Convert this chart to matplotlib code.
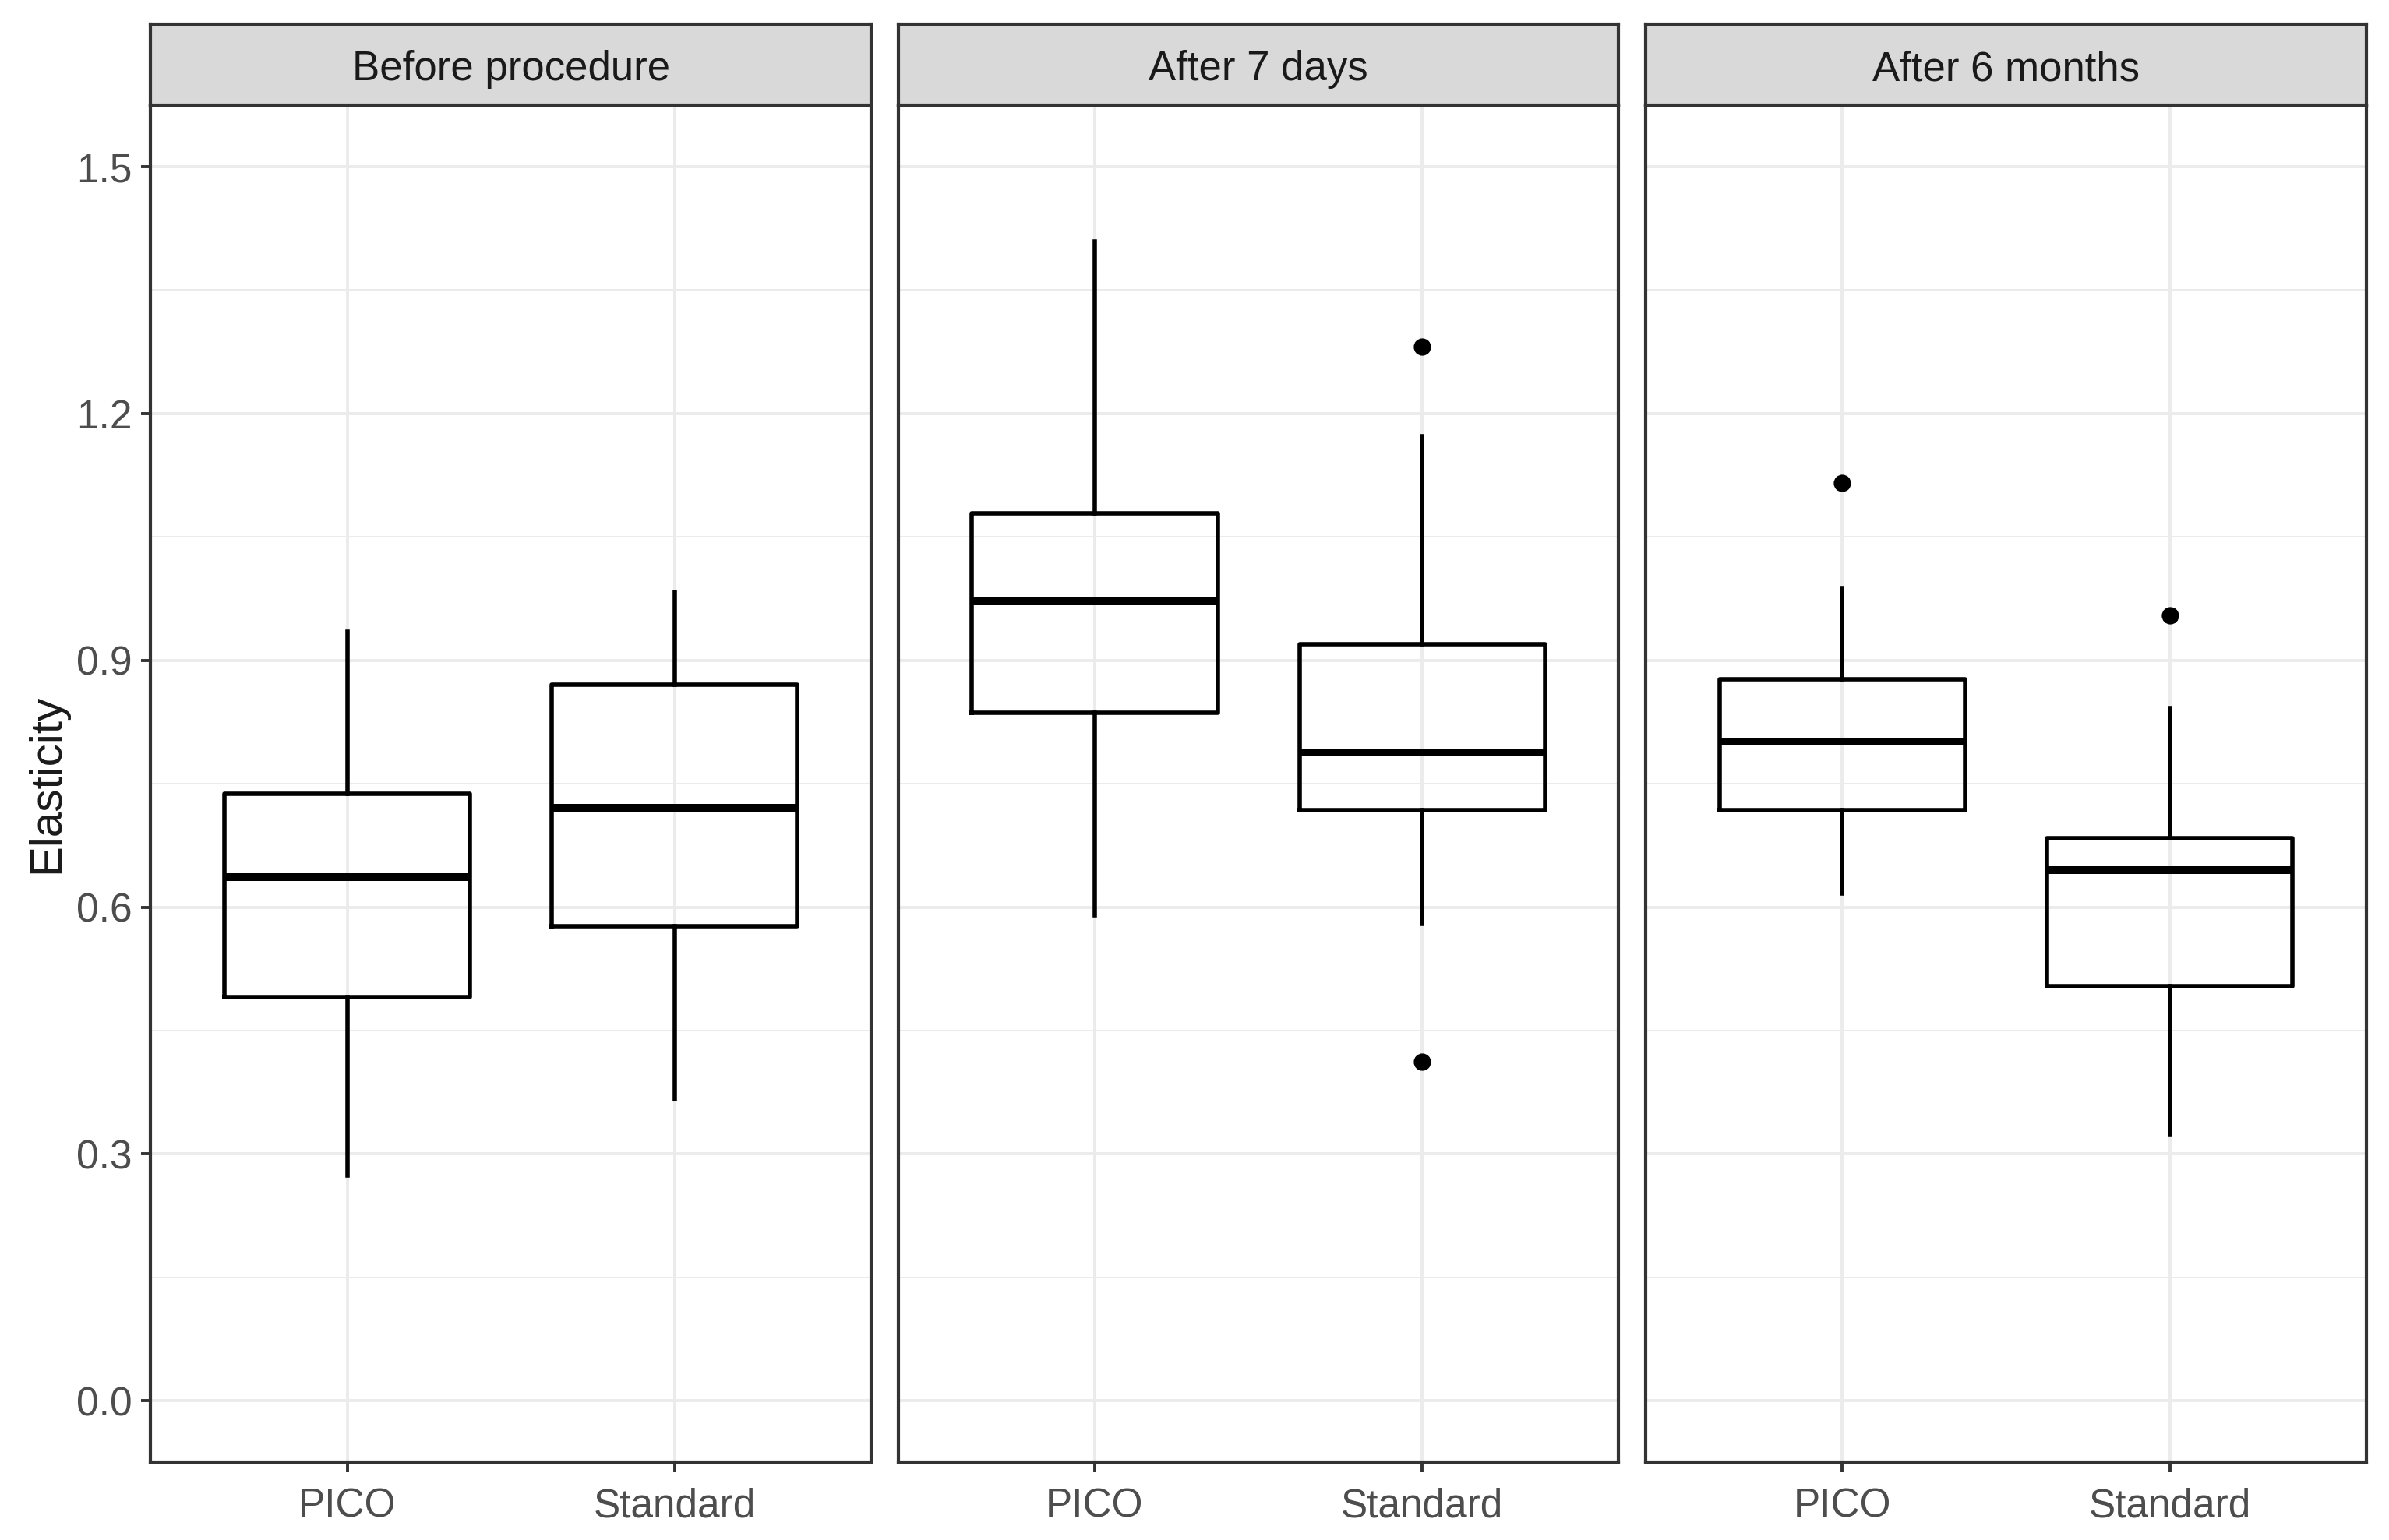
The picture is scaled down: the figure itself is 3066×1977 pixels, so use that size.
import numpy as np
import matplotlib.pyplot as plt

plt.rcParams['font.family'] = ['Liberation Sans', 'DejaVu Sans']

panels = ["Before procedure", "After 7 days", "After 6 months"]
groups = ["PICO", "Standard"]

# box stats per panel: [PICO, Standard]
whislo = [[0.274, 0.367], [0.590, 0.580], [0.617, 0.323]]
q1 = [[0.491, 0.577], [0.836, 0.718], [0.718, 0.504]]
med = [[0.636, 0.721], [0.972, 0.788], [0.801, 0.645]]
q3 = [[0.738, 0.870], [1.079, 0.920], [0.877, 0.684]]
whishi = [[0.935, 0.983], [1.409, 1.172], [0.988, 0.842]]
fliers = [[[], []], [[], [1.281, 0.412]], [[1.116], [0.955]]]

yticks = [0.0, 0.3, 0.6, 0.9, 1.2, 1.5]

fig = plt.figure(figsize=(15.33, 9.885), dpi=200)
left, right, bottom, top = 0.0631, 0.9904, 0.0504, 0.9318
gap = 18 / 1568
pw = (right - left - 2 * gap) / 3
strip_h = 0.9842 - top

for i, name in enumerate(panels):
    x0 = left + i * (pw + gap)
    ax = fig.add_axes([x0, bottom, pw, top - bottom])
    stats = []
    for j, g in enumerate(groups):
        stats.append(dict(label=g, whislo=whislo[i][j], q1=q1[i][j], med=med[i][j],
                          q3=q3[i][j], whishi=whishi[i][j], fliers=fliers[i][j]))
    ax.bxp(stats, positions=[1, 2], widths=0.75, showcaps=False,
           boxprops=dict(color='black', linewidth=2.0),
           whiskerprops=dict(color='black', linewidth=2.0),
           medianprops=dict(color='black', linewidth=3.6, solid_capstyle='butt'),
           flierprops=dict(marker='o', markerfacecolor='black', markeredgecolor='black',
                           markersize=7))
    ax.set_xlim(0.4, 2.6)
    ax.set_ylim(-0.075, 1.575)
    ax.set_yticks(yticks)
    ax.set_yticks([0.15, 0.45, 0.75, 1.05, 1.35], minor=True)
    ax.grid(True, which='major', color='#EBEBEB', linewidth=1.4, zorder=0)
    ax.grid(True, which='minor', axis='y', color='#EBEBEB', linewidth=0.7, zorder=0)
    ax.set_axisbelow(True)
    for s in ax.spines.values():
        s.set_color('#333333')
        s.set_linewidth(1.5)
    ax.tick_params(which='major', length=4.5, width=1.4, color='#333333',
                   labelsize=18.5, labelcolor='#4D4D4D', pad=4)
    ax.tick_params(axis='x', pad=7)
    ax.tick_params(which='minor', length=0)
    if i == 0:
        ax.set_yticklabels([f"{v:.1f}" for v in yticks])
        ax.set_ylabel("Elasticity", fontsize=21, color='#1A1A1A', labelpad=4)
    else:
        ax.tick_params(axis='y', which='both', left=False, labelleft=False)

    sax = fig.add_axes([x0, top, pw, strip_h])
    sax.set_facecolor('#D9D9D9')
    sax.set_xticks([])
    sax.set_yticks([])
    for s in sax.spines.values():
        s.set_color('#333333')
        s.set_linewidth(1.5)
    sax.text(0.5, 0.44, name, ha='center', va='center', fontsize=19,
             color='#1A1A1A', transform=sax.transAxes)

fig.savefig("out.png", dpi=200)
